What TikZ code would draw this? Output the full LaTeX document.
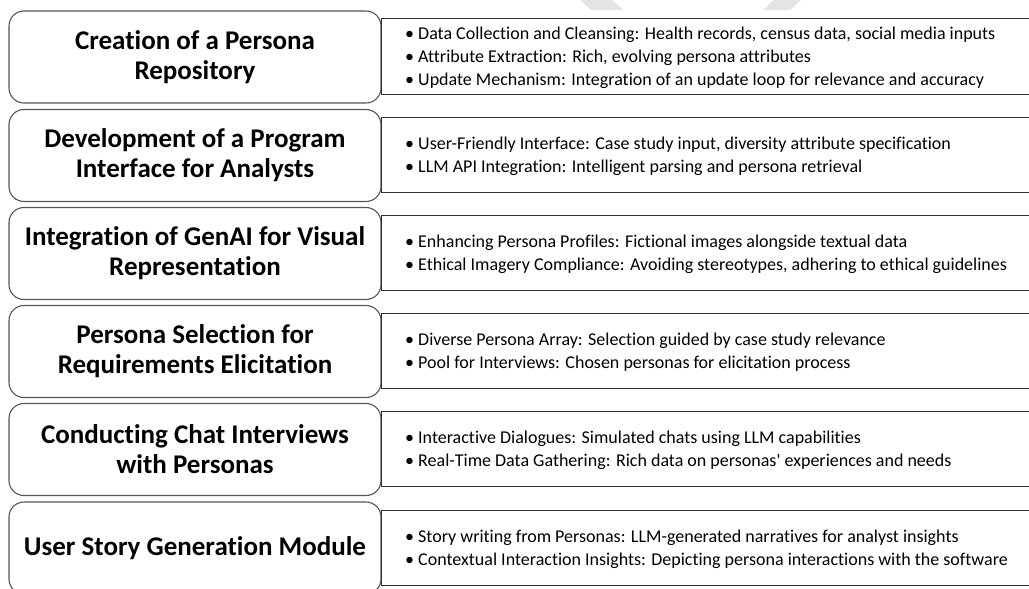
\documentclass[tikz,border=0pt]{standalone}
\usepackage{fontspec}
\setmainfont[Ligatures={NoCommon}]{Carlito}
\newfontfamily\calib[Ligatures={NoCommon}]{Carlito}
\definecolor{boxline}{HTML}{555555}
\definecolor{rectline}{HTML}{303030}
\definecolor{wmark}{HTML}{E4E4E4}
\tikzset{
  titlebox/.style={draw=boxline, line width=1.1pt, rounded corners=15pt,
    minimum width=372pt, minimum height=92pt, inner sep=0pt,
    align=center, font=\calib\fontsize{27}{30}\selectfont\bfseries},
  infotext/.style={anchor=west, align=left, inner sep=0pt,
    font=\calib\fontsize{18}{23}\selectfont},
  inforect/.style={draw=none, minimum height=75pt, minimum width=649pt,
    anchor=west, inner sep=0pt},
  rectedge/.style={draw=rectline, line width=0.9pt}
}
\newcommand{\bitem}[1]{\makebox[13pt][l]{\textbullet}#1}
\begin{document}
\begin{tikzpicture}[x=1pt,y=-1pt]
\useasboundingbox (0,0) rectangle (1029,589);
% faint watermark
\fill[wmark] (580,0) -- (612,0) -- (624,10) -- (591,10) -- cycle;
\fill[wmark] (774,0) -- (801,0) -- (790,10) -- (763,10) -- cycle;

% row 1
\node[titlebox] (t1) at (195,57) {Creation of a Persona\\Repository};
\node[inforect] (r1) at (381,56.5) {};
\draw[rectedge] (r1.north east) -- (r1.north west) -- (r1.south west) -- (r1.south east);
\node[infotext] (i1) at (405,57.5) {\bitem{Data Collection and Cleansing: Health records, census data, social media inputs}\\
\bitem{Attribute Extraction: Rich, evolving persona attributes}\\
\bitem{Update Mechanism: Integration of an update loop for relevance and accuracy}};

% row 2
\node[titlebox] (t2) at (195,155.5) {Development of a Program\\Interface for Analysts};
\node[inforect] (r2) at (381,155) {};
\draw[rectedge] (r2.north east) -- (r2.north west) -- (r2.south west) -- (r2.south east);
\node[infotext] (i2) at (405,156) {\bitem{User-Friendly Interface: Case study input, diversity attribute specification}\\
\bitem{LLM API Integration: Intelligent parsing and persona retrieval}};

% row 3
\node[titlebox] (t3) at (195,253.5) {Integration of GenAI for Visual\\Representation};
\node[inforect] (r3) at (381,253) {};
\draw[rectedge] (r3.north east) -- (r3.north west) -- (r3.south west) -- (r3.south east);
\node[infotext] (i3) at (405,254) {\bitem{Enhancing Persona Profiles: Fictional images alongside textual data}\\
\bitem{Ethical Imagery Compliance: Avoiding stereotypes, adhering to ethical guidelines}};

% row 4
\node[titlebox] (t4) at (195,351.5) {Persona Selection for\\Requirements Elicitation};
\node[inforect] (r4) at (381,351) {};
\draw[rectedge] (r4.north east) -- (r4.north west) -- (r4.south west) -- (r4.south east);
\node[infotext] (i4) at (405,352) {\bitem{Diverse Persona Array: Selection guided by case study relevance}\\
\bitem{Pool for Interviews: Chosen personas for elicitation process}};

% row 5
\node[titlebox] (t5) at (195,449.5) {Conducting Chat Interviews\\with Personas};
\node[inforect] (r5) at (381,449) {};
\draw[rectedge] (r5.north east) -- (r5.north west) -- (r5.south west) -- (r5.south east);
\node[infotext] (i5) at (405,450) {\bitem{Interactive Dialogues: Simulated chats using LLM capabilities}\\
\bitem{Real-Time Data Gathering: Rich data on personas' experiences and needs}};

% row 6
\node[titlebox] (t6) at (195,548) {User Story Generation Module};
\node[inforect] (r6) at (381,548) {};
\draw[rectedge] (r6.north east) -- (r6.north west) -- (r6.south west) -- (r6.south east);
\node[infotext] (i6) at (405,549) {\bitem{Story writing from Personas: LLM-generated narratives for analyst insights}\\
\bitem{Contextual Interaction Insights: Depicting persona interactions with the software}};
\end{tikzpicture}
\end{document}
